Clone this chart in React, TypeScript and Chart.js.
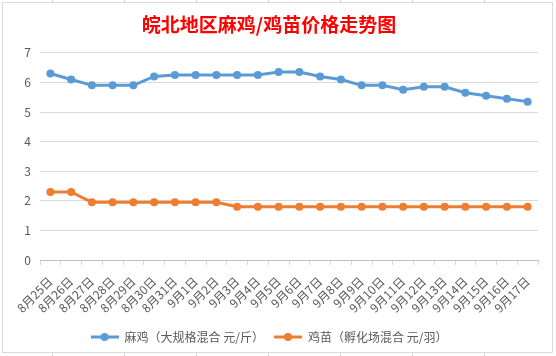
import React, { useEffect, useRef } from "react";
import { Chart, registerables } from "chart.js";

Chart.register(...registerables);

const TITLE = "皖北地区麻鸡/鸡苗价格走势图";
const categories = [
  "8月25日", "8月26日", "8月27日", "8月28日", "8月29日", "8月30日", "8月31日",
  "9月1日", "9月2日", "9月3日", "9月4日", "9月5日", "9月6日", "9月7日", "9月8日",
  "9月9日", "9月10日", "9月11日", "9月12日", "9月13日", "9月14日", "9月15日",
  "9月16日", "9月17日",
];
const seriesNames = ["麻鸡（大规格混合 元/斤）", "鸡苗（孵化场混合 元/羽）"];
const maji = [
  6.3, 6.1, 5.9, 5.9, 5.9, 6.2, 6.25, 6.25, 6.25, 6.25, 6.25, 6.35, 6.35, 6.2,
  6.1, 5.9, 5.9, 5.75, 5.85, 5.85, 5.65, 5.55, 5.45, 5.35,
];
const jimiao = [
  2.3, 2.3, 1.95, 1.95, 1.95, 1.95, 1.95, 1.95, 1.95, 1.8, 1.8, 1.8, 1.8, 1.8,
  1.8, 1.8, 1.8, 1.8, 1.8, 1.8, 1.8, 1.8, 1.8, 1.8,
];
const yMin = 0;
const yMax = 7;
const yStep = 1;

const BLUE = "#5B9BD5";
const ORANGE = "#ED7D31";
const FONT = "'Noto Sans CJK SC', 'Microsoft YaHei', sans-serif";

function legendMarker(color: string): HTMLCanvasElement {
  const c = document.createElement("canvas");
  c.width = 28;
  c.height = 10;
  const ctx = c.getContext("2d")!;
  ctx.strokeStyle = color;
  ctx.lineWidth = 3;
  ctx.beginPath();
  ctx.moveTo(0, 5);
  ctx.lineTo(28, 5);
  ctx.stroke();
  ctx.fillStyle = color;
  ctx.beginPath();
  ctx.arc(14, 5, 4, 0, Math.PI * 2);
  ctx.fill();
  return c;
}

export default function App() {
  const ref = useRef<HTMLCanvasElement>(null);

  useEffect(() => {
    if (!ref.current) return;
    const markers = [legendMarker(BLUE), legendMarker(ORANGE)];
    const chart = new Chart(ref.current, {
      type: "line",
      data: {
        labels: categories,
        datasets: [
          {
            label: seriesNames[0],
            data: maji,
            borderColor: BLUE,
            backgroundColor: BLUE,
            borderWidth: 3,
            pointRadius: 4,
            pointBorderWidth: 0,
            pointBackgroundColor: BLUE,
            tension: 0,
          },
          {
            label: seriesNames[1],
            data: jimiao,
            borderColor: ORANGE,
            backgroundColor: ORANGE,
            borderWidth: 3,
            pointRadius: 4,
            pointBorderWidth: 0,
            pointBackgroundColor: ORANGE,
            tension: 0,
          },
        ],
      },
      options: {
        responsive: false,
        animation: false,
        layout: { padding: { left: 0, right: 18, top: 0, bottom: 3 } },
        plugins: {
          title: {
            display: true,
            text: TITLE,
            color: "#FF0000",
            font: { family: FONT, size: 19, weight: "bold" },
            padding: { top: 13, bottom: 17 },
          },
          legend: {
            position: "bottom",
            labels: {
              usePointStyle: true,
              pointStyleWidth: 28,
              padding: 10,
              color: "#595959",
              font: { family: FONT, size: 12 },
              generateLabels: (ch: any) =>
                ch.data.datasets.map((ds: any, i: number) => ({
                  text: ds.label,
                  fillStyle: ds.borderColor,
                  strokeStyle: ds.borderColor,
                  lineWidth: 0,
                  pointStyle: markers[i],
                  hidden: false,
                  datasetIndex: i,
                  fontColor: "#595959",
                })),
            },
          },
          tooltip: { enabled: false },
        },
        scales: {
          x: {
            offset: true,
            afterFit: (s: any) => {
              s.height = 61;
            },
            grid: {
              display: true,
              offset: true,
              drawOnChartArea: false,
              drawTicks: true,
              tickLength: 5,
              color: "#D9D9D9",
            },
            border: { display: true, color: "#BFBFBF", width: 1 },
            ticks: {
              color: "#595959",
              font: { family: FONT, size: 12 },
              minRotation: 45,
              maxRotation: 45,
              autoSkip: false,
              padding: 9,
            },
          },
          y: {
            min: yMin,
            max: yMax,
            afterFit: (s: any) => {
              s.width = 40;
            },
            grid: { color: "#D9D9D9", drawTicks: false },
            border: { display: false },
            ticks: {
              stepSize: yStep,
              color: "#595959",
              font: { family: FONT, size: 12 },
              padding: 9,
            },
          },
        },
      },
    });
    return () => chart.destroy();
  }, []);

  return (
    <div
      style={{
        position: "fixed",
        left: 0,
        top: 0,
        width: 556,
        height: 356,
        background: "#fff",
        backgroundImage:
          "repeating-linear-gradient(to right, transparent 0, transparent 52px, #D4D4D4 52px, #D4D4D4 53px, transparent 53px, transparent 72px)",
      }}
    >
      <div
        style={{
          position: "absolute",
          left: 2,
          top: 2,
          width: 549,
          height: 349,
          border: "1px solid #D9D9D9",
          background: "#fff",
        }}
      />
      <canvas
        ref={ref}
        width={556}
        height={356}
        style={{ position: "absolute", left: 0, top: 0, width: 556, height: 356 }}
      />
    </div>
  );
}
